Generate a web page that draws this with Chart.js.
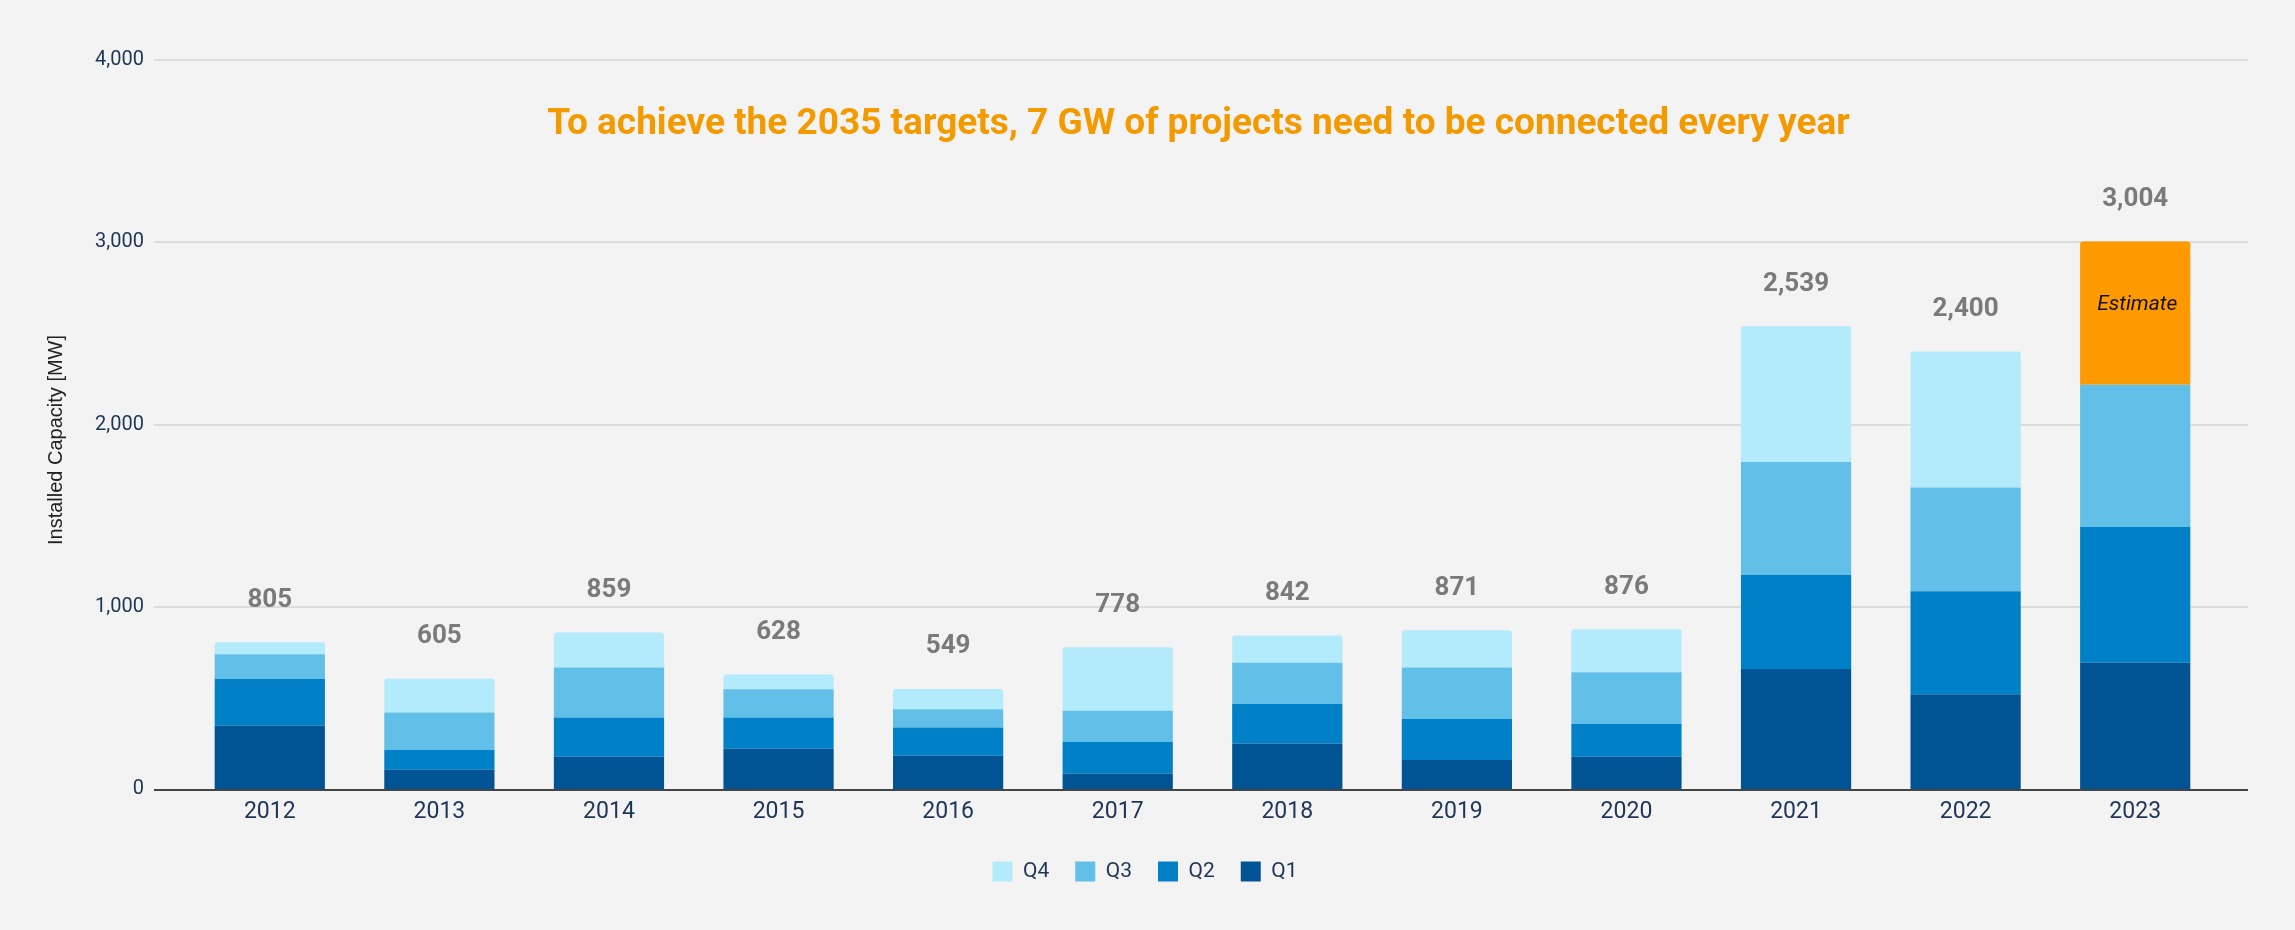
<!DOCTYPE html>
<html>
<head>
<meta charset="utf-8">
<script src="https://cdn.jsdelivr.net/npm/chart.js@4.4.1/dist/chart.umd.min.js"></script>
<style>
  html, body { margin: 0; padding: 0; background: #f3f3f3; }
  #wrap { width: 2295px; height: 930px; position: relative; }
</style>
</head>
<body>
<div id="wrap"><canvas id="capacityChart"></canvas></div>
<script>
// installed capacity per quarter, MW
const years = ["2012", "2013", "2014", "2015", "2016", "2017", "2018", "2019", "2020", "2021", "2022", "2023"];
const q1 = [347, 106, 177, 221, 183, 84, 249, 159, 177, 659, 520, 693];
const q2 = [257, 108, 216, 172, 155, 174, 217, 225, 179, 516, 565, 744];
const q3 = [135, 206, 273, 154, 99, 172, 227, 282, 284, 619, 570, 781];
const q4 = [66, 185, 193, 81, 112, 348, 149, 205, 236, 745, 745, null];
const estimate = [null, null, null, null, null, null, null, null, null, null, null, 786];
const totals = [805, 605, 859, 628, 549, 778, 842, 871, 876, 2539, 2400, 3004];
const yTicks = [0, 1000, 2000, 3000, 4000];

const chartTitle = "To achieve the 2035 targets, 7 GW of projects need to be connected every year";
const yTitle = "Installed Capacity [MW]";

const navy = "#1e3656";

// gridlines run a bit wider than the bars
const extraLines = {
  id: "extraLines",
  beforeDatasetsDraw(chart) {
    const { ctx, chartArea } = chart;
    const y = chart.scales.y;
    ctx.save();
    ctx.strokeStyle = "#dcdcdc";
    ctx.lineWidth = 2;
    yTicks.forEach(v => {
      if (v === 0) return;
      const py = Math.round(y.getPixelForValue(v));
      ctx.beginPath();
      ctx.moveTo(chartArea.left - 31, py);
      ctx.lineTo(chartArea.right + 28, py);
      ctx.stroke();
    });
    ctx.restore();
  },
  afterDatasetsDraw(chart) {
    const { ctx, chartArea } = chart;
    const y = chart.scales.y;
    ctx.save();
    ctx.strokeStyle = "#444";
    ctx.lineWidth = 2;
    const py = Math.round(y.getPixelForValue(0)) + 1;
    ctx.beginPath();
    ctx.moveTo(chartArea.left - 31, py);
    ctx.lineTo(chartArea.right + 28, py);
    ctx.stroke();

    // totals over each stack
    ctx.fillStyle = "#7a7a7a";
    ctx.font = "bold 26px Roboto";
    ctx.textAlign = "center";
    ctx.textBaseline = "middle";
    const meta = chart.getDatasetMeta(0);
    totals.forEach((t, i) => {
      const x = meta.data[i].x;
      ctx.fillText(t.toLocaleString("en-US"), x, y.getPixelForValue(t) - 42);
    });

    // estimate note
    const em = chart.getDatasetMeta(4);
    em.data.forEach((bar, i) => {
      if (estimate[i] == null) return;
      ctx.fillStyle = "#111";
      ctx.font = "italic 21px Roboto";
      ctx.fillText("Estimate", bar.x + 2, (bar.y + bar.base) / 2 - 8);
    });

    // headline
    ctx.fillStyle = "#f39a00";
    ctx.font = "bold 37px Roboto";
    ctx.fillText(chartTitle, (chartArea.left + chartArea.right) / 2 - 4, 125);

    // y axis title
    ctx.fillStyle = "#222";
    ctx.font = "20px 'Liberation Sans', Arial";
    ctx.translate(56, 440);
    ctx.rotate(-Math.PI / 2);
    ctx.fillText(yTitle, 0, 0);
    ctx.restore();
  }
};

const topRound = { topLeft: 3, topRight: 3, bottomLeft: 0, bottomRight: 0 };

new Chart(document.getElementById("capacityChart"), {
  type: "bar",
  data: {
    labels: years,
    datasets: [
      { label: "Q1", data: q1, backgroundColor: "#005494" },
      { label: "Q2", data: q2, backgroundColor: "#0080c7" },
      { label: "Q3", data: q3, backgroundColor: "#62bfe7" },
      { label: "Q4", data: q4, backgroundColor: "#b3eafc", borderRadius: topRound },
      { label: "Estimate", data: estimate, backgroundColor: "#ff9900", borderRadius: topRound }
    ]
  },
  options: {
    responsive: true,
    maintainAspectRatio: false,
    animation: false,
    categoryPercentage: 1,
    barPercentage: 0.65,
    layout: { padding: { top: 60, right: 75, left: 70, bottom: 38 } },
    plugins: {
      title: { display: false },
      tooltip: { enabled: false },
      legend: {
        position: "bottom",
        reverse: true,
        labels: {
          filter: item => item.text !== "Estimate",
          boxWidth: 20,
          boxHeight: 20,
          padding: 26,
          color: navy,
          font: { family: "Roboto", size: 21 }
        }
      }
    },
    scales: {
      x: {
        stacked: true,
        grid: { display: false, drawTicks: false },
        border: { display: false },
        ticks: { color: navy, font: { family: "Roboto", size: 23 }, padding: 9 },
        afterFit: s => { s.height = 46; }
      },
      y: {
        stacked: true,
        min: 0,
        max: 4000,
        afterBuildTicks: s => { s.ticks = yTicks.map(v => ({ value: v })); },
        grid: { display: false, drawTicks: false },
        border: { display: false },
        ticks: {
          color: navy,
          font: { family: "Roboto", size: 20 },
          padding: 41,
          callback: v => v.toLocaleString("en-US")
        },
        afterFit: s => { s.width = 115; }
      }
    }
  },
  plugins: [extraLines]
});
</script>
</body>
</html>
